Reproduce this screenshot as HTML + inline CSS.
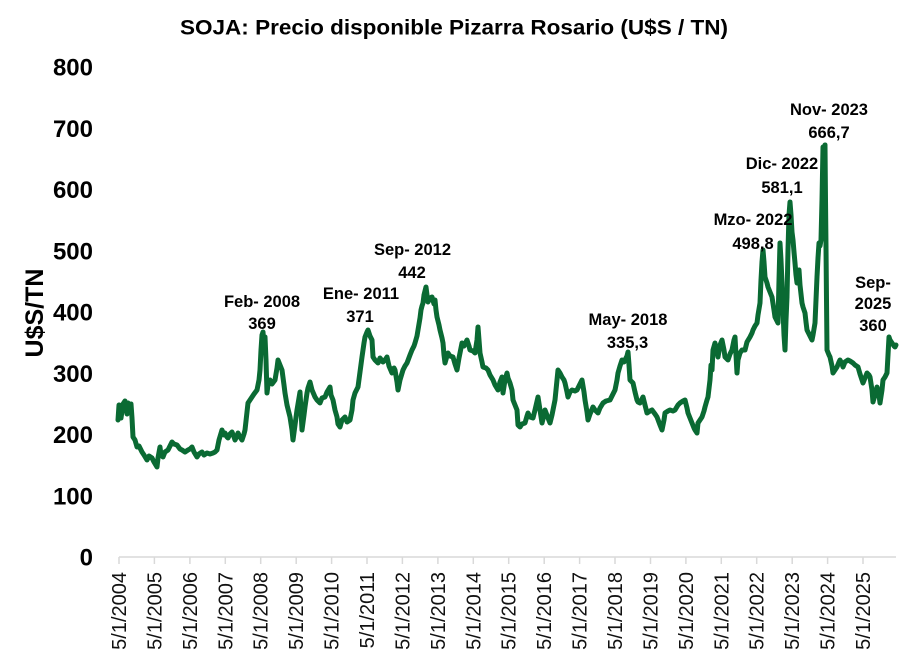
<!DOCTYPE html>
<html>
<head>
<meta charset="utf-8">
<style>
  html,body{margin:0;padding:0;background:#fff;}
  svg{display:block;}
  text{font-family:"Liberation Sans", Arial, sans-serif;}
</style>
</head>
<body>
<svg width="910" height="661" viewBox="0 0 910 661" xmlns="http://www.w3.org/2000/svg">
  <rect x="0" y="0" width="910" height="661" fill="#ffffff"/>

  <!-- Title -->
  <text x="180" y="34.5" font-size="21" font-weight="bold" fill="#000" textLength="548" lengthAdjust="spacingAndGlyphs">SOJA: Precio disponible Pizarra Rosario (U$S / TN)</text>

  <!-- Y axis labels -->
  <g font-size="24" font-weight="bold" fill="#000" text-anchor="end">
    <text x="93" y="75.5">800</text>
    <text x="93" y="136.8">700</text>
    <text x="93" y="198">600</text>
    <text x="93" y="259.3">500</text>
    <text x="93" y="320.5">400</text>
    <text x="93" y="381.8">300</text>
    <text x="93" y="443">200</text>
    <text x="93" y="504.3">100</text>
    <text x="93" y="565.5">0</text>
  </g>

  <!-- Y axis title -->
  <text transform="translate(43,313) rotate(-90)" font-size="25" font-weight="bold" fill="#000" text-anchor="middle">U$S/TN</text>

  <!-- X axis line and ticks -->
  <g stroke="#d9d9d9" stroke-width="1.5" fill="none">
    <line x1="119" y1="557" x2="896" y2="557"/>
    <path d="M119,557v7 M154.4,557v7 M189.9,557v7 M225.3,557v7 M260.7,557v7 M296.2,557v7 M331.6,557v7 M367,557v7 M402.4,557v7 M437.9,557v7 M473.3,557v7 M508.7,557v7 M544.2,557v7 M579.6,557v7 M615,557v7 M650.5,557v7 M685.9,557v7 M721.3,557v7 M756.7,557v7 M792.2,557v7 M827.6,557v7 M863,557v7"/>
  </g>

  <!-- X axis labels -->
  <g font-size="20" fill="#111" text-anchor="end">
    <text transform="translate(126,572) rotate(-90)">5/1/2004</text>
    <text transform="translate(161.4,572) rotate(-90)">5/1/2005</text>
    <text transform="translate(196.9,572) rotate(-90)">5/1/2006</text>
    <text transform="translate(232.3,572) rotate(-90)">5/1/2007</text>
    <text transform="translate(267.7,572) rotate(-90)">5/1/2008</text>
    <text transform="translate(303.2,572) rotate(-90)">5/1/2009</text>
    <text transform="translate(338.6,572) rotate(-90)">5/1/2010</text>
    <text transform="translate(374,572) rotate(-90)">5/1/2011</text>
    <text transform="translate(409.4,572) rotate(-90)">5/1/2012</text>
    <text transform="translate(444.9,572) rotate(-90)">5/1/2013</text>
    <text transform="translate(480.3,572) rotate(-90)">5/1/2014</text>
    <text transform="translate(515.7,572) rotate(-90)">5/1/2015</text>
    <text transform="translate(551.2,572) rotate(-90)">5/1/2016</text>
    <text transform="translate(586.6,572) rotate(-90)">5/1/2017</text>
    <text transform="translate(622,572) rotate(-90)">5/1/2018</text>
    <text transform="translate(657.5,572) rotate(-90)">5/1/2019</text>
    <text transform="translate(692.9,572) rotate(-90)">5/1/2020</text>
    <text transform="translate(728.3,572) rotate(-90)">5/1/2021</text>
    <text transform="translate(763.7,572) rotate(-90)">5/1/2022</text>
    <text transform="translate(799.2,572) rotate(-90)">5/1/2023</text>
    <text transform="translate(834.6,572) rotate(-90)">5/1/2024</text>
    <text transform="translate(870,572) rotate(-90)">5/1/2025</text>
  </g>

  <!-- Series -->
  <polyline fill="none" stroke="#0a6a33" stroke-width="5" stroke-linejoin="round" stroke-linecap="round" points="
118,420 119,405 121,418 123,404 125,401 127,414 128,403 130,410 131,404 132,418 133,437 135,440 137,447 139,446 142,452 144,455 147,460 149,456 152,458 154,462 157,467 158,458 160,447 161,455 163,457 165,452 168,450 170,446 172,442 174,444 177,445 180,449 182,450 185,452 188,450 190,449 192,447 194,452 197,457 199,454 202,452 204,455 207,453 210,454 213,453 215,452 217,450 219,440 222,430 224,435 225,433 227,437 228,438 230,434 232,432 234,437 235,440 237,436 238,433 240,437 242,440 244,434 245,430 247,412 248,403 250,400 252,397 254,394 257,390 259,380 260,370 261,350 262,335 263,332 264,345 265,337 266,360 267,393 268,385 270,380 272,384 275,380 277,368 278,360 280,365 282,370 284,385 285,393 287,405 290,417 292,430 293,440 295,425 297,410 299,398 300,392 301,410 302,430 304,415 305,407 307,393 308,388 310,382 312,390 315,397 317,400 320,403 322,398 325,397 327,392 330,387 331,395 333,400 335,410 337,417 338,424 340,427 342,420 345,417 347,422 350,420 352,410 353,400 355,393 358,387 360,372 362,357 364,343 365,337 367,332 368,330 370,336 372,340 373,357 375,360 378,363 380,358 383,362 385,360 387,357 389,366 392,373 394,368 395,370 397,382 398,390 400,380 403,370 405,366 407,363 410,355 412,350 414,346 415,343 417,336 418,330 420,318 421,310 422,306 423,303 424,295 426,287 427,295 428,302 430,298 432,297 434,304 435,300 436,310 437,317 439,325 440,330 442,338 443,343 444,355 445,363 447,356 448,353 450,356 453,357 455,364 457,370 459,358 462,343 464,346 467,340 469,346 470,350 473,351 475,353 477,340 478,327 479,340 480,353 482,362 483,367 486,368 488,370 490,375 493,380 495,385 498,390 500,382 502,377 503,393 505,380 507,373 508,378 510,383 512,390 513,400 515,405 517,410 518,425 520,427 522,424 525,423 527,416 528,413 530,417 533,418 535,410 538,397 540,410 542,423 544,415 545,410 548,418 550,423 552,415 555,400 557,380 558,370 560,373 562,377 564,380 565,383 567,392 568,397 570,392 572,390 575,391 577,390 580,384 582,380 584,392 585,400 587,412 588,420 590,414 593,407 595,410 598,413 600,408 603,403 606,401 610,400 612,396 615,390 617,380 618,373 620,366 622,360 624,362 625,360 627,356 628,352 629,365 630,380 632,382 633,383 635,392 637,400 638,402 640,403 642,399 643,397 645,405 647,413 650,411 652,410 655,414 657,417 660,425 662,430 664,420 665,413 668,411 670,410 673,411 675,410 678,405 680,403 683,401 685,400 687,408 688,413 690,418 692,423 694,428 695,430 697,433 698,423 700,420 702,417 704,411 705,407 707,400 708,397 710,380 711,365 712,370 713,350 715,343 717,352 718,357 720,345 722,340 724,350 725,357 727,359 728,360 730,354 732,350 734,340 735,337 736,355 737,373 738,360 740,353 742,350 745,350 747,342 750,337 752,333 753,330 755,326 757,323 758,315 760,303 761,280 762,262 763,250 764,262 765,277 767,283 768,287 770,292 772,297 774,310 775,317 777,321 778,323 779,280 780,243 781,260 782,283 783,310 784,335 785,350 786,320 787,297 788,250 789,215 790,202 791,215 792,232 793,240 794,252 795,263 796,275 797,283 798,275 799,270 800,285 802,303 803,307 805,313 806,322 807,330 810,336 812,340 813,335 815,323 816,300 817,277 818,258 819,243 820,246 821,240 822,200 823,147 824,150 825,145 825.5,200 826,247 826.5,300 827,350 829,355 830,357 832,366 833,373 835,370 837,367 839,362 840,360 842,364 843,367 845,362 848,360 850,361 853,363 855,365 858,367 860,374 863,383 865,378 867,373 869,375 870,377 872,390 873,402 875,395 877,387 879,395 880,403 882,390 883,380 885,377 887,373 888,355 889,337 890,340 892,343 894,346 895,347 896,345"/>

  <!-- Annotations -->
  <g font-size="16.5" font-weight="bold" fill="#000" text-anchor="middle">
    <text x="262" y="307">Feb- 2008</text>
    <text x="262" y="329">369</text>
    <text x="361" y="299">Ene- 2011</text>
    <text x="360" y="322">371</text>
    <text x="412.5" y="255">Sep- 2012</text>
    <text x="412" y="278">442</text>
    <text x="628" y="325">May- 2018</text>
    <text x="627.5" y="348">335,3</text>
    <text x="753" y="225">Mzo- 2022</text>
    <text x="753" y="249">498,8</text>
    <text x="782" y="169">Dic- 2022</text>
    <text x="782" y="193">581,1</text>
    <text x="829" y="115">Nov- 2023</text>
    <text x="829" y="138">666,7</text>
    <text x="873" y="288">Sep-</text>
    <text x="873" y="309">2025</text>
    <text x="873" y="331">360</text>
  </g>
</svg>
</body>
</html>
